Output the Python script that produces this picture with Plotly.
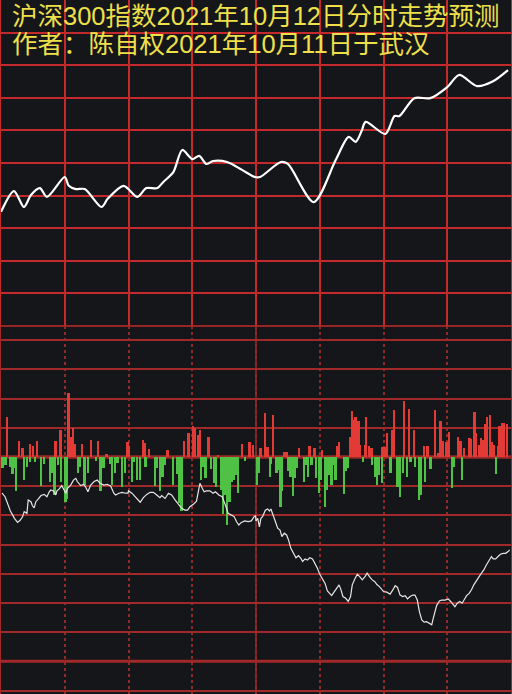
import plotly.graph_objects as go

# ---------------- data ----------------
title_line1 = "沪深300指数2021年10月12日分时走势预测"
title_line2 = "作者：陈自权2021年10月11日于武汉"

# upper panel: predicted index (minutes from open, index value)
up_x = [0, 6.1, 10.8, 14.1, 18.3, 21.6, 30, 31.9, 35.2, 39.4, 47.3, 50.2, 57.7, 64.2, 68.4,
        73.6, 76.4, 81.1, 85.3, 90, 93.3, 96.6, 99.8, 106.4, 113.4, 119.5, 121.9, 131.7, 135,
        147.2, 157.5, 163.6, 166.9, 169.7, 171.6, 180.9, 185.2, 187.5, 194.5, 202, 210, 215.6,
        224, 231.1, 238.6]
up_v = [4885.0, 4891.4, 4886.5, 4890.2, 4892.3, 4889.6, 4895.7, 4893.0, 4892.0, 4892.0,
        4886.5, 4889.0, 4893.0, 4889.6, 4892.3, 4892.3, 4894.2, 4897.2, 4904.0, 4901.2,
        4902.2, 4899.7, 4900.6, 4900.3, 4897.9, 4895.7, 4895.7, 4900.3, 4899.7, 4888.0,
        4900.9, 4908.0, 4906.5, 4909.8, 4912.6, 4908.9, 4914.4, 4914.4, 4919.9, 4919.9,
        4923.3, 4927.0, 4923.6, 4924.9, 4928.5]

# lower panel: red (up) bars
red_x = [2.8, 8.6, 10.2, 13.6, 15.2, 17.2, 25.8, 28.1, 31.9, 33.1, 33.9, 34.8, 38.3, 42.5, 45.9, 49.7, 59.7,
         60.5, 67, 67.8, 69.7, 78.4, 86.3, 88.4, 90.6, 91.3, 92.8, 93.6, 97.8, 102.2, 113.6, 117, 118.8,
         122.3, 124.4, 125.5, 128.1, 133.3, 134.5, 140.3, 145.3, 147.7, 151.3, 158.3, 159.1, 164.2, 165.3,
         166.1, 166.9, 168.4, 169.2, 171.3, 171.9, 173.4, 174.4, 179.7,
         180.8, 181.9, 184.4, 185.2, 189.8, 192.2, 194.4, 199.1, 200.8, 204.2, 205.8, 207, 208.1, 209.7,
         210.8, 215.2, 216.3, 218, 220.6, 221.4, 223, 223.8, 225.3, 226.1, 226.9, 228.1, 228.9, 230.3,
         231.1, 231.9, 233.9, 234.7, 235.8, 236.7, 238.1]
red_v = [1.38, 0.55, 0.30, 0.43, 0.39, 0.55, 0.55, 0.92, 2.18, 0.70, 1.0, 0.43, 0.43, 0.6, 0.55, 0.09, 0.5,
         0.39, 0.58, 0.47, 0.27, 0.23, 0.55, 0.81, 1.07, 1.0, 0.75, 0.92, 0.70, 0.07, 0.43, 0.5, 0.41,
         0.30, 1.50, 0.35, 1.44, 0.18, 0.18, 0.30, 0.39, 0.30, 0.24, 0.39, 0.5, 0.70, 1.58,
         1.27, 1.38, 1.23, 0.41, 0.41, 1.38, 0.39, 0.3, 0.35,
         0.35, 0.81, 0.92, 1.61, 1.92, 1.64, 0.92, 0.39, 0.39, 1.61, 0.13, 1.23, 0.55, 0.53,
         0.87, 0.70, 0.55, 0.32, 0.64, 0.62, 1.55, 0.81, 0.41, 0.64, 0.58, 1.12, 1.38, 1.44,
         0.53, 0.41, 0.39, 1.07, 1.15, 1.15, 1.12]

# lower panel: green (down) bars
green_x = [0.8, 2.3, 4.4, 5.5, 6.3, 7.3, 10.9, 12.5, 13.8, 16.1, 18.8, 20.3, 23.1, 23.9, 25.3, 26.9,
           28.4, 30.5, 31.3, 36.3, 37.2, 39.4, 40.9, 44.7, 46.9, 48.4, 51.6, 52.5, 53.9, 55, 57, 58.6,
           61.9, 62.8, 64.2, 65.5, 68.1, 72.5, 73.6, 74.8, 76.1, 77.2, 81.1, 83.1, 83.8, 85, 94.1, 95.2,
           96.4, 98.8, 100.3, 101.4, 103.8, 104.5, 105.6, 106.6, 107.7, 108.8, 109.7, 110.8, 111.6, 115,
           120.5, 121.6, 126.6, 127.3, 129.7, 130.5, 131.7, 132.5, 135.3, 136.4, 137.5, 138.3, 139.5,
           142.7, 143.4, 144.7, 146.3, 148.4, 149.7, 150.5, 152.5, 153.3, 154.4, 155.6, 156.3, 157.5,
           161.4, 162.2, 163.4, 170.5, 174.7, 176.3, 177, 178.1, 179.4,
           183.4, 186.7, 187.8, 189.4, 191.3, 192.8, 194.8, 196.9, 197.7, 199.8, 202.2, 212.3, 213.3,
           217.2, 233.1]
green_v = [-0.39, -0.27, -0.33, -0.59, -0.39, -1.16, -0.79, -0.33, -0.16, -0.18, -0.99, -0.25, -0.84,
           -0.56, -1.30, -0.27, -0.84, -1.53, -1.45, -0.53, -0.33, -0.96, -0.53, -0.14, -1.16, -0.37,
           -0.25, -0.96, -0.53, -0.22, -1.02, -0.56,
           -0.84, -0.18, -0.79, -0.79, -0.33, -0.99, -0.37, -1.16, -0.67, -0.27, -0.96, -0.59, -1.59,
           -1.85, -0.79, -0.33, -0.71, -0.41, -0.90, -1.02, -1.13, -1.96, -1.30, -2.33, -1.53, -0.87,
           -0.79, -0.62, -1.24, -0.14,
           -0.96, -0.53, -0.67, -0.25, -0.56, -0.45, -1.70, -1.16, -0.48, -0.67, -1.32, -0.73, -0.37,
           -0.84, -0.27, -0.67, -0.27, -0.71, -1.24, -0.79, -1.70, -1.13, -0.62, -0.96, -0.27, -0.79,
           -1.28, -0.48, -0.37, -0.18, -0.27, -0.67, -0.96, -0.62, -0.90,
           -0.53, -1.02, -1.36, -0.53, -0.67, -0.16, -0.33, -1.47, -1.30, -0.84, -0.41, -1.05, -0.33,
           -0.79, -0.59]

# lower panel: white indicator line
lo_x = [0.5, 1.9, 2.8, 4.4, 5.5, 6.3, 7.8, 9.1, 10.2, 10.9, 12.2, 12.8, 14.1, 14.8, 15.6, 16.4, 17.5,
        18.8, 20.3, 21.6, 22.7, 23.4, 24.7, 25.8, 26.3, 27.3, 28.6, 29.4, 30.5, 31.3, 32.8, 34.1, 35.2,
        35.9, 37.5, 38.8, 39.8, 40.9, 42.2, 43.8, 45.3, 46.6, 48.4, 50, 51.6, 53.1, 53.9, 55.5, 57,
        58.6, 59.8,
        60, 61.6, 63.1, 65.5, 67, 68.6, 70.2, 71.7, 73.3, 74.8, 75.6, 77.2, 78.8, 80.3, 81.9, 83.4,
        85, 86.6, 87.8, 88.9, 90.5, 92, 92.8, 93.6, 94.7, 95.6, 96.7, 98.3, 99.8, 100.9, 102.5, 104.1,
        105.3, 106.9, 108.4, 109.7, 110.8, 111.9, 113.1, 114.7, 116.3, 117.8, 119.1, 119.8,
        120, 120.8, 121.6, 122.3, 123.1, 124.4, 125.5, 126.3, 127, 128.1, 129.4, 130.2, 131.3, 132.2,
        133.3, 134.4, 135.3, 136.4, 137.5, 138.8, 140, 141.1, 141.9, 143.1, 144.2, 145.3, 146.6,
        147.8, 148.9, 150, 151.3, 152.5, 153.6, 154.7, 155.6, 156.7, 157.8, 159.1, 160, 160.9, 162.2,
        163.4, 164.5, 165.3, 166.6, 167.7, 168.8, 170, 171.3, 172.3, 173.4, 174.7, 175.9, 177, 178.1,
        179.1, 179.8,
        180, 181.6, 183.1, 184.4, 185.5, 186.6, 187.8, 189.1, 190.2, 191.3, 192.5, 193.8, 194.8,
        195.9, 196.9, 198, 199.1, 200.3, 201.6, 202.7, 203.4, 204.2, 205, 206.3, 207.3, 208.9, 210.5,
        211.6, 212.8, 213.6, 214.7, 215.9, 217, 217.8, 219.1, 220.3, 221.4, 222.5, 223.8, 225, 226.1,
        227.2, 228.4, 229.7, 230.8, 231.6, 232.8, 233.9, 235, 236.3, 237.5, 238.6, 239.4]
lo_v = [-1.24, -1.36, -1.53, -1.85, -1.99, -2.10, -2.24, -2.16, -2.04, -1.87, -1.93, -1.47, -1.53,
        -1.67, -1.74, -1.53, -1.44, -1.32, -1.28, -1.36, -1.19, -1.13, -1.16, -1.30, -1.16, -1.10,
        -0.98, -1.07, -1.24, -1.07, -0.96, -0.79, -0.73, -0.84, -0.98, -0.94, -1.02, -1.19, -0.96,
        -0.84, -0.79, -0.90, -0.96, -0.94, -0.99, -1.24, -1.30, -1.24, -1.21, -1.24, -1.24,
        -1.16, -1.24, -1.36, -1.55, -1.39, -1.28, -1.21, -1.21, -1.30, -1.39, -1.32, -1.42, -1.24,
        -1.30, -1.47, -1.62, -1.76, -1.82, -1.82, -1.70, -1.62, -1.51, -1.19, -0.90, -1.07, -1.19,
        -1.16, -1.16, -1.24, -1.19, -1.30, -1.36, -1.59, -1.93, -1.99, -2.04, -2.21, -2.33, -2.24,
        -2.19, -2.21, -2.19, -2.04, -2.01,
        -2.19, -2.10, -2.39, -2.10, -2.04, -1.82, -1.78, -1.85, -1.78, -2.04, -2.27, -2.44, -2.50,
        -2.73, -2.61, -2.67, -2.84, -3.13, -3.30, -3.45, -3.38, -3.47, -3.58, -3.49, -3.53, -3.45,
        -3.49, -3.64, -3.81, -4.02, -4.21, -4.33, -4.59, -4.70, -4.75, -4.63, -4.50, -4.38, -4.55,
        -4.78, -4.84, -4.95, -4.78, -4.38, -4.16, -4.02, -4.10, -4.21, -4.10, -3.98, -4.10, -4.21,
        -4.27, -4.38, -4.44, -4.55, -4.61,
        -4.61, -4.63, -4.70, -4.55, -4.41, -4.47, -4.73, -4.78, -4.75, -4.86, -4.78, -4.73, -4.73,
        -4.90, -5.30, -5.58, -5.66, -5.64, -5.70, -5.75, -5.53, -5.30, -5.09, -4.93, -4.90, -4.90,
        -4.86, -4.95, -5.07, -5.13, -5.01, -4.95, -5.01, -4.90, -4.75, -4.67, -4.55, -4.38, -4.21,
        -4.10, -3.98, -3.87, -3.70, -3.56, -3.41, -3.49, -3.49, -3.41, -3.33, -3.30, -3.30, -3.24,
        -3.18]

# ---------------- styling ----------------
BG = "#151619"
GRID_UP = "#c42a2b"
GRID_LO = "#a2292a"
GRID_DOT = "#8e2a2a"
RED_BAR = "#e23b36"
GREEN_BAR = "#4fc245"
YELLOW = "#efe04a"
W, H = 512, 694
split = 1 - 326 / H

fig = go.Figure()
fig.add_trace(go.Bar(x=red_x, y=red_v, marker=dict(color=RED_BAR, line=dict(width=0)),
                     width=0.85, xaxis="x2", yaxis="y2"))
fig.add_trace(go.Bar(x=green_x, y=green_v, marker=dict(color=GREEN_BAR, line=dict(width=0)),
                     width=0.85, xaxis="x2", yaxis="y2"))
fig.add_trace(go.Scatter(x=lo_x, y=lo_v, mode="lines", line=dict(color="#e6e6e6", width=1.2),
                         xaxis="x2", yaxis="y2"))
fig.add_trace(go.Scatter(x=up_x, y=up_v, mode="lines",
                         line=dict(color="#ffffff", width=2.2, shape="spline", smoothing=0.8),
                         xaxis="x", yaxis="y"))

common_x = dict(range=[0, 240], dtick=30, tick0=0, showticklabels=False, ticks="",
                zeroline=False, showline=False, fixedrange=True)
fig.update_layout(
    width=W, height=H,
    margin=dict(l=1, r=1, t=0, b=0),
    paper_bgcolor=BG, plot_bgcolor=BG,
    showlegend=False, barmode="overlay", bargap=0,
    xaxis=dict(domain=[0, 1], anchor="y", gridcolor=GRID_UP, gridwidth=1.5, **common_x),
    yaxis=dict(domain=[split, 1], range=[4850, 4950], dtick=10, tick0=4850, showticklabels=False,
               ticks="", gridcolor=GRID_UP, gridwidth=1.5, zeroline=False,
               showline=True, mirror=True, linecolor=GRID_UP, linewidth=1.5),
    xaxis2=dict(domain=[0, 1], anchor="y2", gridcolor=GRID_DOT, gridwidth=1.5, griddash="dot",
                **common_x),
    yaxis2=dict(domain=[0, split], range=[-8.12, 4.49], dtick=1, tick0=0, showticklabels=False,
                ticks="", gridcolor=GRID_LO, gridwidth=2, zeroline=False,
                showline=True, mirror=True, linecolor=GRID_LO, linewidth=1.5),
)

shapes = [
    dict(type="line", xref="x2", yref="paper", x0=120, x1=120, y0=0, y1=split,
         line=dict(color=GRID_LO, width=1.5), layer="below"),
    dict(type="line", xref="paper", yref="paper", x0=0, x1=1, y0=split, y1=split,
         line=dict(color=GRID_UP, width=1.5), layer="below"),
    dict(type="line", xref="paper", yref="y2", x0=0, x1=1, y0=0, y1=0,
         line=dict(color="#d83532", width=3), layer="below"),
    dict(type="line", xref="paper", yref="y2", x0=0, x1=1, y0=-7, y1=-7,
         line=dict(color=GRID_LO, width=3), layer="below"),
]
fig.update_layout(shapes=shapes)

title_font = dict(family="Liberation Sans, Noto Sans CJK SC, sans-serif", size=25.5, color=YELLOW)
fig.add_annotation(text=title_line1, xref="paper", yref="paper", x=10 / W, y=1 - 16 / H,
                   xanchor="left", yanchor="middle", showarrow=False, borderpad=0,
                   font=title_font)
fig.add_annotation(text=title_line2, xref="paper", yref="paper", x=10 / W, y=1 - 44.5 / H,
                   xanchor="left", yanchor="middle", showarrow=False, borderpad=0,
                   font=title_font)

fig.write_html("out.html", config={"displayModeBar": False},
               post_script="document.body.style.margin='0';")
